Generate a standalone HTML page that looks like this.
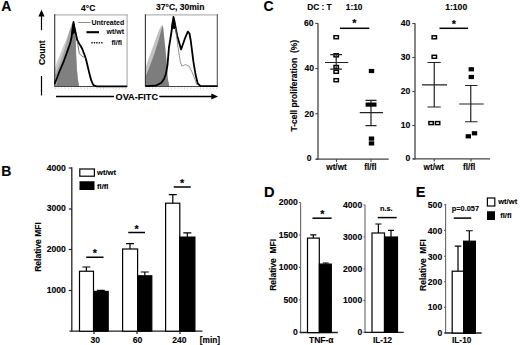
<!DOCTYPE html>
<html><head><meta charset="utf-8">
<style>
html,body{margin:0;padding:0;background:#fff;}
body{width:520px;height:345px;overflow:hidden;}
svg{display:block;}
text{font-family:"Liberation Sans",sans-serif;font-weight:bold;fill:#000;}
.t{stroke:#000;stroke-width:0.12;}
</style></head>
<body>
<svg width="520" height="345" viewBox="0 0 520 345">
<rect x="0" y="0" width="520" height="345" fill="#fff"/>

<text class="t" x="1.2" y="10.9" font-size="14">A</text>
<text class="t" x="88.2" y="10.6" font-size="8.5" text-anchor="middle">4°C</text>
<text class="t" x="180.2" y="10.4" font-size="8.5" text-anchor="middle">37°C, 30min</text>
<line x1="41.5" y1="15" x2="41.5" y2="30.2" stroke="#000" stroke-width="1.2"/>
<path d="M41.5 9.8 L44.6 16.4 L38.4 16.4 Z" stroke="none" stroke-width="0" fill="#000"/>
<text class="t" transform="translate(44.9,52.7) rotate(-90)" font-size="8.6" text-anchor="middle">Count</text>
<line x1="41.5" y1="76" x2="41.5" y2="95.4" stroke="#000" stroke-width="1.2"/>
<line x1="56" y1="96.5" x2="114" y2="96.5" stroke="#000" stroke-width="1.4"/>
<text class="t" x="115.6" y="99.9" font-size="9.15">OVA-FITC</text>
<line x1="159.3" y1="96.5" x2="212" y2="96.5" stroke="#000" stroke-width="1.4"/>
<path d="M218 96.5 L211.3 93.6 L211.3 99.4 Z" stroke="none" stroke-width="0" fill="#000"/>
<path d="M54.5 86.2 L54.5 70 L57 62 L60 55 L63 47 L66 40 L68.5 33 L71 26 L73.3 22 L75 28 L75.8 40 L76.2 55 L77 70 L78 80 L79.2 86.2 Z" fill="#cacaca"/>
<path d="M54.5 86.2 L54.5 76 L58 68 L61 60 L64 51 L66.5 42 L69 33 L71.5 25 L73.3 22 L75 28 L75.8 40 L76.2 55 L77 70 L78 80 L79.2 86.2 Z" fill="#a4a4a4"/>
<path d="M56.5 86.2 L57.5 80 L60 72 L63.5 62 L67 52 L70 43 L72 32 L73.3 23 L74.6 28 L75.4 40 L76 55 L76.6 68 L77.6 79 L78.8 86.2 Z" fill="#808080"/>
<line x1="54.5" y1="14.9" x2="127.5" y2="14.9" stroke="#b4b4b4" stroke-width="1.3"/>
<line x1="54.7" y1="14.3" x2="54.7" y2="86.5" stroke="#333" stroke-width="1.1"/>
<line x1="127.1" y1="14.3" x2="127.1" y2="86.5" stroke="#aaa" stroke-width="1.1"/>
<line x1="54.5" y1="86.5" x2="127.5" y2="86.5" stroke="#444" stroke-width="1.2"/>
<line x1="55" y1="88.2" x2="127" y2="88.2" stroke="#c8c8c8" stroke-width="1.2" stroke-dasharray="1,2.2"/>
<path d="M54.5 84 L57 78 L59.2 72 L63.6 61.7 L67.2 51.6 L70.1 43.6 L71.6 37 L72.6 29 L73.5 22 L74.5 28 L75.7 33 L77.2 40 L79 43.5 L80.7 46 L82.3 49 L83.5 52.2 L85.6 57.7 L86.9 63 L89 71.9 L91.1 79.9 L93.3 85 L96.9 86.3 L127 86.3" stroke="#000" stroke-width="1.8" fill="none" stroke-linejoin="round"/>
<path d="M72.5 34 L73.1 28.5 L73.5 25 L74.2 28.5 L75.1 33" stroke="#000" stroke-width="2.4" fill="none"/>
<path d="M77.3 41 L78 45.5 L79.3 53.5 L82.1 56.3 L84.9 57.7 L85.8 58.5" stroke="#666" stroke-width="0.9" fill="none"/>
<line x1="78.4" y1="22.5" x2="90.5" y2="22.5" stroke="#888" stroke-width="1"/>
<text class="n" x="124.2" y="24.8" font-size="7" text-anchor="end">Untreated</text>
<line x1="86.5" y1="32.2" x2="99" y2="32.2" stroke="#000" stroke-width="2.1"/>
<text class="n" x="124" y="34.2" font-size="7" text-anchor="end">wt/wt</text>
<rect x="91.3" y="42" width="1.4" height="1.5" fill="#222"/>
<rect x="93.75" y="42" width="1.4" height="1.5" fill="#222"/>
<rect x="96.2" y="42" width="1.4" height="1.5" fill="#222"/>
<rect x="98.65" y="42" width="1.4" height="1.5" fill="#222"/>
<rect x="101.1" y="42" width="1.4" height="1.5" fill="#222"/>
<text class="n" x="122" y="44.8" font-size="7" text-anchor="end">fl/fl</text>
<path d="M145.5 86.2 L145.5 68 L147.5 62 L150 55 L152.5 48 L155 41 L157.5 34 L159.5 29 L161.5 25.5 L162.6 24.6 L163.4 28 L164.4 38 L165.5 48 L166.4 58 L167.3 70 L167.8 78 L169.5 86.2 Z" fill="#c2c2c2"/>
<path d="M145.8 86.2 L145.8 76 L148 71 L151 63 L154 55 L156.5 47 L159 39 L160.8 32 L162 27.5 L162.6 26 L163.2 29 L164.2 39 L165.3 49 L166.2 59 L167.1 70 L167.6 78 L169.2 86.2 Z" fill="#7d7d7d"/>
<line x1="145.2" y1="14.9" x2="217.8" y2="14.9" stroke="#b4b4b4" stroke-width="1.3"/>
<line x1="145.4" y1="14.3" x2="145.4" y2="86.5" stroke="#333" stroke-width="1.1"/>
<line x1="217.3" y1="14.3" x2="217.3" y2="86.5" stroke="#555" stroke-width="1.1"/>
<line x1="145.2" y1="86.5" x2="217.8" y2="86.5" stroke="#444" stroke-width="1.2"/>
<line x1="145.6" y1="88.2" x2="217.5" y2="88.2" stroke="#c8c8c8" stroke-width="1.2" stroke-dasharray="1,2.2"/>
<path d="M145.5 86.1 L155.6 85.7 L161.4 82.8 L164 79 L166 73.5 L167.5 65 L168.9 48 L170.5 38 L171.6 31 L172.6 23 L173.5 17 L175 24 L177.1 35.5 L179 42 L181.1 49.4 L183 44 L185.2 37.8 L187.8 31.6 L189.5 33.5 L190.8 41 L193.4 61.7 L195.6 74.8 L197.7 83.5 L200.6 86.1 L217.5 86.1" stroke="#000" stroke-width="1.8" fill="none" stroke-linejoin="round"/>
<path d="M172.1 29 L172.8 24.5 L173.5 21.5 L174.3 24.5 L175 29" stroke="#000" stroke-width="2.4" fill="none"/>
<path d="M175.5 28 L177.1 40 L178.2 48.7 L180.3 61.7 L181.8 66.1 L185.4 64.6 L189 66.1 L192 71.9 L194.8 79.1 L197 85" stroke="#777" stroke-width="0.8" fill="none"/>
<text class="t" x="1.2" y="175.8" font-size="14">B</text>
<text class="t" transform="translate(41.3,247) rotate(-90)" font-size="8.5" text-anchor="middle">Relative MFI</text>
<line x1="71.8" y1="167.3" x2="71.8" y2="331.6" stroke="#222" stroke-width="1.3"/>
<line x1="69.5" y1="331.2" x2="202.5" y2="331.2" stroke="#222" stroke-width="1.3"/>
<line x1="68.8" y1="168" x2="71.8" y2="168" stroke="#222" stroke-width="1.2"/>
<text class="t" x="65.9" y="171.4" font-size="8.6" text-anchor="end">4000</text>
<line x1="68.8" y1="209" x2="71.8" y2="209" stroke="#222" stroke-width="1.2"/>
<text class="t" x="65.9" y="211.0" font-size="8.6" text-anchor="end">3000</text>
<line x1="68.8" y1="249.5" x2="71.8" y2="249.5" stroke="#222" stroke-width="1.2"/>
<text class="t" x="65.9" y="251.7" font-size="8.6" text-anchor="end">2000</text>
<line x1="68.8" y1="290.5" x2="71.8" y2="290.5" stroke="#222" stroke-width="1.2"/>
<text class="t" x="65.9" y="293.2" font-size="8.6" text-anchor="end">1000</text>
<rect x="79.5" y="271.25" width="14" height="60" fill="#fff" stroke="#000" stroke-width="1.2"/>
<rect x="93.7" y="291.4" width="14.5" height="39.8" fill="#000" stroke="#000" stroke-width="1.2"/>
<rect x="122.6" y="249" width="15" height="82.2" fill="#fff" stroke="#000" stroke-width="1.2"/>
<rect x="137.6" y="275.8" width="14.2" height="55.4" fill="#000" stroke="#000" stroke-width="1.2"/>
<rect x="165.6" y="203.2" width="14.2" height="128" fill="#fff" stroke="#000" stroke-width="1.2"/>
<rect x="179.8" y="237.1" width="15.1" height="94.1" fill="#000" stroke="#000" stroke-width="1.2"/>
<path d="M86.4 271.25 V267 M82.4 267 H90.4 M100.9 291.4 V290.3 M96.9 290.3 H104.7 M130 249 V243.6 M126 243.6 H134 M144.8 275.8 V272 M140.8 272 H148.8 M172.8 203.2 V194.7 M168.8 194.7 H176.8 M187.3 237.1 V232.8 M183.3 232.8 H191.3" stroke="#000" stroke-width="1.2" fill="none"/>
<path d="M86.25 257.2 H103.5 M128.25 232.6 H145 M173.75 187.1 H190.75" stroke="#000" stroke-width="1.5" fill="none"/>
<path d="M94 331 V334 M137 331 V334 M180 331 V334" stroke="#222" stroke-width="1.2" fill="none"/>
<text class="t" x="94.8" y="257.2" font-size="10.8" text-anchor="middle">*</text>
<text class="t" x="136.5" y="232.5" font-size="10.8" text-anchor="middle">*</text>
<text class="t" x="182" y="186.5" font-size="10.8" text-anchor="middle">*</text>
<text class="t" x="95.3" y="343.3" font-size="8.6" text-anchor="middle">30</text>
<text class="t" x="137.5" y="343.3" font-size="8.6" text-anchor="middle">60</text>
<text class="t" x="179.3" y="343.3" font-size="8.6" text-anchor="middle">240</text>
<text class="t" x="199.8" y="343.3" font-size="8.3">[min]</text>
<rect x="79.8" y="169" width="14.6" height="7.2" fill="#fff" stroke="#000" stroke-width="1.2"/>
<rect x="79.5" y="181.25" width="15" height="8.75" fill="#000"/>
<text class="t" x="97" y="174.9" font-size="7.6">wt/wt</text>
<text class="t" x="97" y="189" font-size="7.6">fl/fl</text>
<text class="t" x="263.5" y="10.8" font-size="14">C</text>
<text class="t" x="307.2" y="10.2" font-size="8.3">DC : T</text>
<text class="t" x="345.8" y="10.2" font-size="8.3">1:10</text>
<text class="t" x="445.2" y="10.2" font-size="8.6">1:100</text>
<text class="t" transform="translate(296.9,85.7) rotate(-90)" font-size="8.5" text-anchor="middle">T-cell proliferation&#160;&#160;(%)</text>
<line x1="318" y1="23.2" x2="318" y2="159.7" stroke="#444" stroke-width="1.3"/>
<line x1="316" y1="159.2" x2="388.7" y2="159.2" stroke="#444" stroke-width="1.3"/>
<line x1="315.3" y1="23.4" x2="318" y2="23.4" stroke="#444" stroke-width="1.1"/>
<text class="t" x="313.6" y="26.1" font-size="8.6" text-anchor="end">60</text>
<line x1="315.3" y1="68.6" x2="318" y2="68.6" stroke="#444" stroke-width="1.1"/>
<text class="t" x="314" y="71.3" font-size="8.6" text-anchor="end">40</text>
<line x1="315.3" y1="113.8" x2="318" y2="113.8" stroke="#444" stroke-width="1.1"/>
<text class="t" x="314" y="116.5" font-size="8.6" text-anchor="end">20</text>
<line x1="315.3" y1="159.2" x2="318" y2="159.2" stroke="#444" stroke-width="1.1"/>
<text class="t" x="311.5" y="161.3" font-size="8.6" text-anchor="end">0</text>
<path d="M336.5 159.3 V162 M371 159.3 V162" stroke="#444" stroke-width="1.1" fill="none"/>
<path d="M340 28.3 H369.3" stroke="#000" stroke-width="1.5" fill="none"/>
<text class="t" x="354.4" y="27.4" font-size="10.8" text-anchor="middle">*</text>
<rect x="334.0" y="35.7" width="4.4" height="3.0" fill="#fff" stroke="#000" stroke-width="1.45"/>
<rect x="334.0" y="53.8" width="4.4" height="3.0" fill="#fff" stroke="#000" stroke-width="1.45"/>
<rect x="334.0" y="65.5" width="4.4" height="3.0" fill="#fff" stroke="#000" stroke-width="1.45"/>
<rect x="334.0" y="70.3" width="4.4" height="3.0" fill="#fff" stroke="#000" stroke-width="1.45"/>
<rect x="334.0" y="78.7" width="4.4" height="3.0" fill="#fff" stroke="#000" stroke-width="1.45"/>
<path d="M325 62.5 H348.3 M336.2 54.7 V69.1 M330.2 54.7 H342 M330.2 69.1 H342" stroke="#222" stroke-width="1.2" fill="none"/>
<path d="M359.7 112.7 H383 M371 100.3 V125.7 M365.5 100.3 H376.5 M365.5 125.7 H376.5" stroke="#222" stroke-width="1.2" fill="none"/>
<rect x="368.8" y="68.9" width="5.4" height="4.2" fill="#000"/>
<rect x="365.6" y="102.5" width="5.4" height="4.2" fill="#000"/>
<rect x="371.1" y="102.5" width="5.4" height="4.2" fill="#000"/>
<rect x="368.8" y="136.5" width="5.4" height="4.2" fill="#000"/>
<rect x="368.8" y="141.3" width="5.4" height="4.2" fill="#000"/>
<text class="t" x="336.5" y="170.2" font-size="8.2" text-anchor="middle">wt/wt</text>
<text class="t" x="370.4" y="170.2" font-size="8.2" text-anchor="middle">fl/fl</text>
<line x1="415" y1="23.2" x2="415" y2="159.2" stroke="#444" stroke-width="1.3"/>
<line x1="413" y1="158.9" x2="490" y2="158.9" stroke="#444" stroke-width="1.3"/>
<line x1="412.3" y1="23.5" x2="415" y2="23.5" stroke="#444" stroke-width="1.1"/>
<text class="t" x="410.3" y="26.0" font-size="8.6" text-anchor="end">40</text>
<line x1="412.3" y1="57.5" x2="415" y2="57.5" stroke="#444" stroke-width="1.1"/>
<text class="t" x="410.3" y="60.3" font-size="8.6" text-anchor="end">30</text>
<line x1="412.3" y1="91.5" x2="415" y2="91.5" stroke="#444" stroke-width="1.1"/>
<text class="t" x="410.3" y="94.2" font-size="8.6" text-anchor="end">20</text>
<line x1="412.3" y1="125.5" x2="415" y2="125.5" stroke="#444" stroke-width="1.1"/>
<text class="t" x="410.3" y="127.5" font-size="8.6" text-anchor="end">10</text>
<line x1="412.3" y1="159" x2="415" y2="159" stroke="#444" stroke-width="1.1"/>
<text class="t" x="410.3" y="160.8" font-size="8.6" text-anchor="end">0</text>
<path d="M434.25 158.9 V161.5 M471 158.9 V161.5" stroke="#444" stroke-width="1.1" fill="none"/>
<path d="M439.5 28.3 H468" stroke="#000" stroke-width="1.5" fill="none"/>
<text class="t" x="453.8" y="27.8" font-size="10.8" text-anchor="middle">*</text>
<rect x="432.1" y="35.8" width="4.4" height="3.0" fill="#fff" stroke="#000" stroke-width="1.45"/>
<rect x="432.1" y="55.3" width="4.4" height="3.0" fill="#fff" stroke="#000" stroke-width="1.45"/>
<rect x="428.9" y="121.6" width="4.4" height="3.0" fill="#fff" stroke="#000" stroke-width="1.45"/>
<rect x="435.4" y="121.6" width="4.4" height="3.0" fill="#fff" stroke="#000" stroke-width="1.45"/>
<path d="M422 84.8 H447 M434.25 62.5 V107 M427.5 62.5 H440.75 M427.5 107 H440.75" stroke="#222" stroke-width="1.2" fill="none"/>
<path d="M459.25 104 H483.75 M470.75 85.5 V121.75 M465 85.5 H477.5 M465 121.75 H477.5" stroke="#222" stroke-width="1.2" fill="none"/>
<rect x="468.6" y="67.2" width="5.4" height="4.2" fill="#000"/>
<rect x="468.6" y="74.9" width="5.4" height="4.2" fill="#000"/>
<rect x="465.6" y="134.2" width="5.4" height="4.2" fill="#000"/>
<rect x="471.8" y="131.2" width="5.4" height="4.2" fill="#000"/>
<text class="t" x="433.8" y="170.2" font-size="8.2" text-anchor="middle">wt/wt</text>
<text class="t" x="469.1" y="170.2" font-size="8.2" text-anchor="middle">fl/fl</text>
<text class="t" x="264.1" y="196.5" font-size="14.6">D</text>
<text class="t" transform="translate(276.3,264.8) rotate(-90)" font-size="8.5" text-anchor="middle">Relative&#160;&#160;MFI</text>
<line x1="300.6" y1="202.5" x2="300.6" y2="333" stroke="#666" stroke-width="1.1"/>
<line x1="300" y1="332.5" x2="337.8" y2="332.5" stroke="#222" stroke-width="1.3"/>
<line x1="299" y1="202.5" x2="300.6" y2="202.5" stroke="#666" stroke-width="1.1"/>
<text class="t" x="297.8" y="205.3" font-size="8.6" text-anchor="end">2000</text>
<line x1="299" y1="235" x2="300.6" y2="235" stroke="#666" stroke-width="1.1"/>
<text class="t" x="297.8" y="237.8" font-size="8.6" text-anchor="end">1500</text>
<line x1="299" y1="267.4" x2="300.6" y2="267.4" stroke="#666" stroke-width="1.1"/>
<text class="t" x="297.8" y="270.2" font-size="8.6" text-anchor="end">1000</text>
<line x1="299" y1="299.8" x2="300.6" y2="299.8" stroke="#666" stroke-width="1.1"/>
<text class="t" x="297.8" y="302.7" font-size="8.6" text-anchor="end">500</text>
<line x1="299" y1="332.3" x2="300.6" y2="332.3" stroke="#666" stroke-width="1.1"/>
<text class="t" x="297.8" y="335.2" font-size="8.6" text-anchor="end">0</text>
<rect x="307.5" y="238.1" width="11.8" height="94.5" fill="#fff" stroke="#000" stroke-width="1.2"/>
<rect x="319.4" y="264.1" width="11.9" height="68.4" fill="#000" stroke="#000" stroke-width="1.2"/>
<path d="M313.3 238.1 V234.9 M310.3 234.9 H316.3 M325.7 264.1 V263 M322.7 263 H328.7" stroke="#000" stroke-width="1.2" fill="none"/>
<path d="M312.5 218.2 H331.6" stroke="#000" stroke-width="1.5" fill="none"/>
<text class="t" x="322.3" y="217.8" font-size="10.8" text-anchor="middle">*</text>
<text class="t" x="321.3" y="343.2" font-size="8.5" text-anchor="middle">TNF-α</text>
<line x1="365" y1="204.8" x2="365" y2="332.5" stroke="#666" stroke-width="1.1"/>
<line x1="363.75" y1="332.3" x2="403.75" y2="332.3" stroke="#222" stroke-width="1.3"/>
<line x1="363.4" y1="205" x2="365" y2="205" stroke="#666" stroke-width="1.1"/>
<text class="t" x="362.2" y="207.8" font-size="8.6" text-anchor="end">4000</text>
<line x1="363.4" y1="237" x2="365" y2="237" stroke="#666" stroke-width="1.1"/>
<text class="t" x="362.2" y="239.8" font-size="8.6" text-anchor="end">3000</text>
<line x1="363.4" y1="269" x2="365" y2="269" stroke="#666" stroke-width="1.1"/>
<text class="t" x="362.2" y="271.8" font-size="8.6" text-anchor="end">2000</text>
<line x1="363.4" y1="300.4" x2="365" y2="300.4" stroke="#666" stroke-width="1.1"/>
<text class="t" x="362.2" y="303.2" font-size="8.6" text-anchor="end">1000</text>
<line x1="363.4" y1="332.3" x2="365" y2="332.3" stroke="#666" stroke-width="1.1"/>
<text class="t" x="362.2" y="335.2" font-size="8.6" text-anchor="end">0</text>
<rect x="372" y="233" width="12.5" height="99.3" fill="#fff" stroke="#000" stroke-width="1.2"/>
<rect x="384.5" y="237" width="13" height="95.3" fill="#000" stroke="#000" stroke-width="1.2"/>
<path d="M378.4 233 V224 M375.3 224 H381.5 M391 237 V230.4 M388 230.4 H394" stroke="#000" stroke-width="1.2" fill="none"/>
<path d="M377.8 217.6 H396.6" stroke="#000" stroke-width="1.5" fill="none"/>
<text class="t" x="386.3" y="211.4" font-size="7.4" text-anchor="middle">n.s.</text>
<text class="t" x="382.6" y="342.8" font-size="8.2" text-anchor="middle">IL-12</text>
<text class="t" x="415.8" y="196.5" font-size="14.6">E</text>
<text class="t" transform="translate(425.8,265) rotate(-90)" font-size="8.5" text-anchor="middle">Relative&#160;&#160;MFI</text>
<line x1="445.6" y1="204.3" x2="445.6" y2="333.5" stroke="#666" stroke-width="1.1"/>
<line x1="444.5" y1="333" x2="481.7" y2="333" stroke="#222" stroke-width="1.3"/>
<line x1="444" y1="204.7" x2="445.6" y2="204.7" stroke="#666" stroke-width="1.1"/>
<text class="t" x="442.2" y="208.0" font-size="8.6" text-anchor="end">500</text>
<line x1="444" y1="230.4" x2="445.6" y2="230.4" stroke="#666" stroke-width="1.1"/>
<text class="t" x="442.2" y="233.8" font-size="8.6" text-anchor="end">400</text>
<line x1="444" y1="256.2" x2="445.6" y2="256.2" stroke="#666" stroke-width="1.1"/>
<text class="t" x="442.2" y="259.6" font-size="8.6" text-anchor="end">300</text>
<line x1="444" y1="281.8" x2="445.6" y2="281.8" stroke="#666" stroke-width="1.1"/>
<text class="t" x="442.2" y="284.8" font-size="8.6" text-anchor="end">200</text>
<line x1="444" y1="307.4" x2="445.6" y2="307.4" stroke="#666" stroke-width="1.1"/>
<text class="t" x="442.2" y="310.2" font-size="8.6" text-anchor="end">100</text>
<line x1="444" y1="333" x2="445.6" y2="333" stroke="#666" stroke-width="1.1"/>
<text class="t" x="442.2" y="335.8" font-size="8.6" text-anchor="end">0</text>
<rect x="452.2" y="271.2" width="11.4" height="61.8" fill="#fff" stroke="#000" stroke-width="1.2"/>
<rect x="463.6" y="241.2" width="11.8" height="92.1" fill="#000" stroke="#000" stroke-width="1.2"/>
<path d="M458 271.2 V246.2 M454.8 246.2 H461.3 M469.3 241.2 V230.75 M466 230.75 H472.7" stroke="#000" stroke-width="1.2" fill="none"/>
<path d="M453.75 218.1 H471.25" stroke="#000" stroke-width="1.5" fill="none"/>
<text class="t" x="465.4" y="211.4" font-size="7.4" text-anchor="middle">p=0.057</text>
<text class="t" x="461.7" y="343.1" font-size="8.3" text-anchor="middle">IL-10</text>
<rect x="487.4" y="198" width="7.4" height="8" fill="#fff" stroke="#000" stroke-width="1.2"/>
<rect x="487" y="211.25" width="8" height="8.75" fill="#000"/>
<text class="t" x="498.2" y="204" font-size="7.6">wt/wt</text>
<text class="t" x="500.2" y="217.8" font-size="7.6">fl/fl</text>
</svg>
</body></html>
